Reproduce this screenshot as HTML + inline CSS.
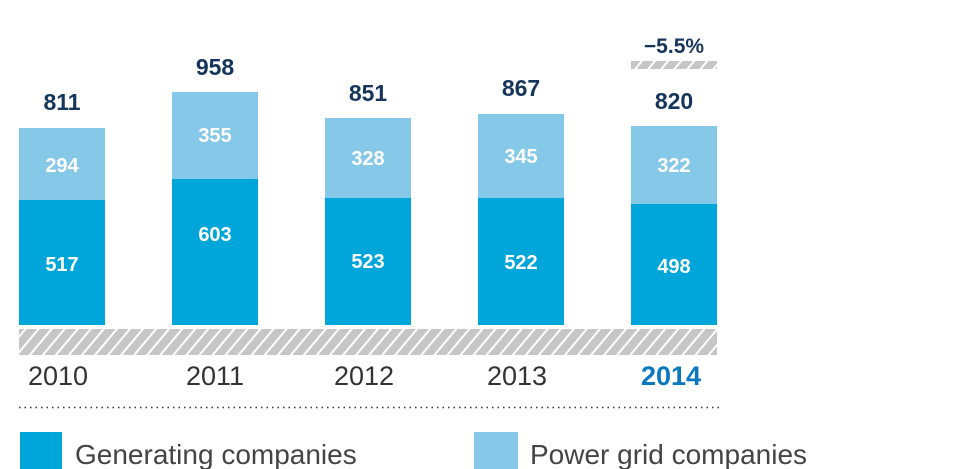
<!DOCTYPE html><html><head><style>body{margin:0;background:#fff}svg{display:block}</style></head><body>
<svg width="963" height="469" xmlns="http://www.w3.org/2000/svg" font-family="Liberation Sans, sans-serif">
<defs><pattern id="h" patternUnits="userSpaceOnUse" width="10" height="10" patternTransform="rotate(40)">
<rect width="10" height="10" fill="#c6c6c6"/><rect x="0" width="2" height="10" fill="#fff"/></pattern></defs>
<g fill="#85c8e8"><rect x="19" y="128" width="86" height="72"/><rect x="172" y="92" width="86" height="87"/><rect x="325" y="118" width="86" height="80"/><rect x="478" y="114" width="86" height="84"/><rect x="631" y="126" width="86" height="78"/></g>
<g fill="#00a5d9"><rect x="19" y="200" width="86" height="125"/><rect x="172" y="179" width="86" height="146"/><rect x="325" y="198" width="86" height="127"/><rect x="478" y="198" width="86" height="127"/><rect x="631" y="204" width="86" height="121"/></g>
<rect x="19" y="329" width="698" height="26" fill="url(#h)"/>
<rect x="631" y="61" width="86" height="8" fill="url(#h)"/>
<g fill="#fff" font-weight="bold" font-size="20" text-anchor="middle">
<text x="62" y="172">294</text><text x="62" y="271">517</text>
<text x="215" y="142">355</text><text x="215" y="241">603</text>
<text x="368" y="165">328</text><text x="368" y="268">523</text>
<text x="521" y="163">345</text><text x="521" y="269">522</text>
<text x="674" y="172">322</text><text x="674" y="273">498</text></g>
<g fill="#15355a" font-weight="bold" font-size="23" text-anchor="middle">
<text x="62" y="110">811</text><text x="215" y="75">958</text><text x="368" y="101">851</text><text x="521" y="96">867</text><text x="674" y="109">820</text>
<text x="674" y="53" font-size="21">−5.5%</text></g>
<g fill="#333" font-size="27" text-anchor="middle">
<text x="58" y="385">2010</text><text x="215" y="385">2011</text><text x="364" y="385">2012</text><text x="517" y="385">2013</text>
<text x="671" y="385" fill="#0a78bf" font-weight="bold">2014</text></g>
<line x1="19" y1="407.5" x2="722" y2="407.5" stroke="#333" stroke-width="1.5" stroke-dasharray="1.5 4"/>
<rect x="20" y="432" width="42" height="37" fill="#00a5d9"/>
<rect x="474" y="432" width="44" height="37" fill="#85c8e8"/>
<g fill="#444" font-size="28"><text x="75" y="464">Generating companies</text><text x="530" y="464">Power grid companies</text></g>
</svg></body></html>
